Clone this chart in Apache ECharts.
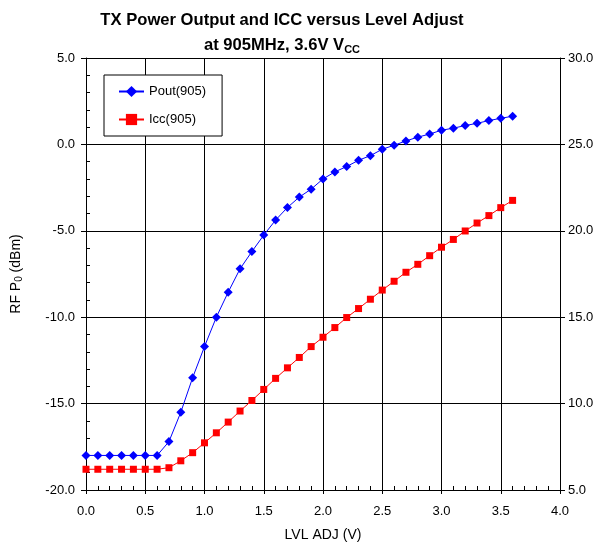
<!DOCTYPE html>
<html><head><meta charset="utf-8">
<script src="https://cdn.jsdelivr.net/npm/echarts@6/dist/echarts.min.js"></script>
<style>html,body{margin:0;padding:0;background:#fff}#c{width:601px;height:547px}</style>
</head><body><div id="c"></div>
<script>
const lvlAdj = [0.0,0.1,0.2,0.3,0.4,0.5,0.6,0.7,0.8,0.9,1.0,1.1,1.2,1.3,1.4,1.5,1.6,1.7,1.8,1.9,2.0,2.1,2.2,2.3,2.4,2.5,2.6,2.7,2.8,2.9,3.0,3.1,3.2,3.3,3.4,3.5,3.6];
const pout905 = [-18.0,-18.0,-18.0,-18.0,-18.0,-18.0,-18.0,-17.2,-15.5,-13.5,-11.7,-10.0,-8.55,-7.2,-6.2,-5.25,-4.38,-3.65,-3.05,-2.59,-2.0,-1.59,-1.28,-0.92,-0.65,-0.28,-0.05,0.2,0.42,0.6,0.82,0.94,1.09,1.22,1.38,1.51,1.63];
const icc905 = [6.2,6.2,6.2,6.2,6.2,6.2,6.2,6.29,6.69,7.16,7.73,8.31,8.93,9.57,10.18,10.82,11.46,12.07,12.67,13.3,13.84,14.4,14.98,15.5,16.04,16.57,17.08,17.6,18.06,18.56,19.05,19.5,19.99,20.45,20.88,21.34,21.76];
const xTicks = {min:0, max:4, interval:0.5};
const yLeftTicks = {min:-20, max:5, interval:5};
const yRightTicks = {min:5, max:30, interval:5};

const chart = echarts.init(document.getElementById('c'));
const F = 'Liberation Sans, Arial, sans-serif';
const pair = arr => lvlAdj.map((x,i)=>[x,arr[i]]);
chart.setOption({
  animation:false,
  textStyle:{fontFamily:F},
  title:{
    text:'{a|TX Power Output and ICC versus Level Adjust}\n{a|at 905MHz, 3.6V V}{s|CC}',
    left:277, top:3, textAlign:'center',
    textStyle:{rich:{
      a:{fontFamily:F,fontSize:16.6,fontWeight:'bold',color:'#000',lineHeight:25},
      s:{fontFamily:F,fontSize:11,fontWeight:'bold',color:'#000',lineHeight:25,padding:[8,0,0,0]}
    }}
  },
  legend:{
    orient:'vertical', left:104, top:75,
    padding:[10,16,10,14], itemGap:15, itemWidth:25, itemHeight:14,
    borderColor:'#000', borderWidth:1, backgroundColor:'#fff',
    textStyle:{fontFamily:F,fontSize:13,color:'#000'},
    data:['Pout(905)','Icc(905)']
  },
  grid:{left:86, right:41, top:58, bottom:57},
  xAxis:[{
    type:'value', min:xTicks.min, max:xTicks.max, interval:xTicks.interval,
    name:'LVL ADJ (V)', nameLocation:'middle', nameGap:38,
    nameTextStyle:{fontFamily:F,fontSize:14,color:'#000'},
    axisLine:{onZero:false,lineStyle:{color:'#000',width:1}},
    axisTick:{show:true,length:4,lineStyle:{color:'#000'}},
    axisLabel:{formatter:v=>v.toFixed(1),fontFamily:F,fontSize:13,color:'#000',margin:15},
    splitLine:{show:true,lineStyle:{color:'#000',width:1}}
  },{
    type:'value', min:0, max:4, interval:0.1, position:'bottom',
    axisLine:{show:false,onZero:false}, axisLabel:{show:false}, splitLine:{show:false},
    axisTick:{show:true,inside:true,length:4,lineStyle:{color:'#000'}}
  }],
  yAxis:[{
    type:'value', min:yLeftTicks.min, max:yLeftTicks.max, interval:yLeftTicks.interval, position:'left',
    name:'{t|RF P}{s|0}{t| (dBm)}', nameLocation:'middle', nameGap:62, nameRotate:90,
    nameTextStyle:{rich:{t:{fontFamily:F,fontSize:14,color:'#000'},s:{fontFamily:F,fontSize:10,color:'#000',padding:[6,0,0,0]}}},
    axisLine:{show:true,onZero:false,lineStyle:{color:'#000',width:1}},
    axisTick:{show:true,length:5,lineStyle:{color:'#000'}},
    axisLabel:{formatter:v=>v.toFixed(1),fontFamily:F,fontSize:13,color:'#000',margin:11},
    splitLine:{show:true,lineStyle:{color:'#000',width:1}}
  },{
    type:'value', min:yRightTicks.min, max:yRightTicks.max, interval:yRightTicks.interval, position:'right',
    axisLine:{show:true,onZero:false,lineStyle:{color:'#000',width:1}},
    axisTick:{show:true,length:5,lineStyle:{color:'#000'}},
    axisLabel:{formatter:v=>v.toFixed(1),fontFamily:F,fontSize:13,color:'#000',margin:8},
    splitLine:{show:false}
  },{
    type:'value', min:-20, max:5, interval:1, position:'left',
    axisLine:{show:false,onZero:false}, axisLabel:{show:false}, splitLine:{show:false},
    axisTick:{show:true,inside:true,length:4,lineStyle:{color:'#000'}}
  }],
  series:[{
    name:'Pout(905)', type:'line', xAxisIndex:0, yAxisIndex:0,
    data:pair(pout905), symbol:'diamond', symbolSize:9,
    lineStyle:{color:'#0000ff',width:1}, itemStyle:{color:'#0000ff'}
  },{
    name:'Icc(905)', type:'line', xAxisIndex:0, yAxisIndex:1,
    data:pair(icc905), symbol:'rect', symbolSize:7,
    lineStyle:{color:'#ff0000',width:1}, itemStyle:{color:'#ff0000'}
  }]
});
</script></body></html>
